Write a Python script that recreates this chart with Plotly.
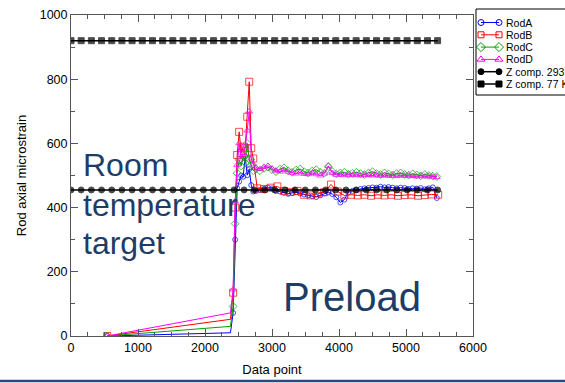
import plotly.graph_objects as go

# ---- data -------------------------------------------------------------
# sample positions (data point index) shared by RodA, RodC and RodD
rod_x = [540, 2380, 2420, 2450, 2480, 2510, 2540, 2570, 2600, 2630, 2660, 2690, 2720,
         2760, 2820, 2880, 2940, 3000, 3060, 3120, 3180, 3240, 3300, 3360, 3420,
         3480, 3540, 3600, 3660, 3720, 3780, 3840, 3900, 3960, 4020, 4080, 4140,
         4200, 4260, 4320, 4380, 4440, 4500, 4560, 4620, 4680, 4740, 4800, 4860,
         4920, 4980, 5040, 5100, 5160, 5220, 5280, 5340, 5400, 5460]

rod_a = [0, 10, 72, 300, 460, 481, 500, 496, 560, 501, 520, 470, 450,
         452, 455, 458, 462, 460, 452, 450, 446, 443, 446, 448, 444,
         441, 438, 436, 433, 438, 444, 448, 442, 432, 416, 425, 448,
         452, 455, 458, 460, 461, 463, 462, 465, 463, 464, 462, 460,
         462, 461, 458, 460, 459, 461, 457, 460, 463, 430]

rod_c = [0, 30, 92, 350, 507, 548, 530, 560, 540, 600, 550, 530, 515,
         520, 515, 522, 526, 518, 512, 520, 524, 515, 510, 517, 520,
         512, 508, 514, 518, 510, 507, 528, 512, 505, 508, 510, 504,
         507, 510, 506, 503, 508, 512, 506, 503, 508, 505, 502, 506,
         508, 503, 501, 505, 502, 499, 503, 500, 498, 497]

rod_d = [0, 72, 145, 420, 533, 600, 553, 570, 590, 640, 700, 553, 535,
         525, 520, 527, 530, 522, 515, 512, 518, 512, 508, 506, 510,
         505, 504, 508, 504, 500, 506, 530, 508, 502, 503, 501, 503,
         501, 502, 500, 502, 501, 500, 502, 499, 501, 499, 500, 498,
         500, 499, 500, 498, 497, 499, 497, 498, 496, 495]

# RodB was logged on a coarser grid after the preload spike
rod_b_x = [540, 2380, 2420, 2450, 2480, 2510, 2540, 2570, 2600, 2630, 2660, 2690, 2720,
           2780, 2880, 2980, 3080, 3180, 3280, 3380, 3480, 3580, 3680, 3780, 3880,
           3980, 4080, 4180, 4280, 4380, 4480, 4580, 4680, 4780, 4880, 4980, 5080,
           5180, 5280, 5380, 5480]

rod_b = [0, 52, 135, 400, 564, 636, 570, 590, 585, 683, 792, 585, 553,
         460, 458, 462, 466, 452, 449, 452, 440, 438, 445, 448, 472,
         450, 438, 440, 438, 440, 437, 440, 438, 440, 437, 439, 440,
         437, 439, 441, 440]

# computed Z-component targets
zcomp_x = [0, 152, 304, 456, 608, 760, 912, 1064, 1216, 1368, 1520, 1672, 1824,
           1976, 2128, 2280, 2432, 2584, 2736, 2888, 3040, 3192, 3344, 3496, 3648,
           3800, 3952, 4104, 4256, 4408, 4560, 4712, 4864, 5016, 5168, 5320, 5472]
zcomp_293k = 455
zcomp_77k = 920

x_ticks = [0, 1000, 2000, 3000, 4000, 5000, 6000]
y_ticks = [0, 200, 400, 600, 800, 1000]

# ---- layout geometry (pixels) ----------------------------------------
W, H = 565, 383
ML, MB = 71, 47                 # left / bottom margins
PAPER_W, PAPER_H = W - ML, H - MB
PLOT_RIGHT, PLOT_TOP = 473, 15  # main plot box edges
LEG_LEFT, LEG_TOP, LEG_BOTTOM = 476, 9, 95

FONT = "Liberation Sans, Arial, sans-serif"
TEXT_BLUE = "#1d3c66"
AXIS_GREY = "#555555"

def px_to_x(px):
    return (px - ML) / PAPER_W

def px_to_y(py):
    return (PAPER_H - py) / PAPER_H

fig = go.Figure()

# (name, x, y, colour, symbol, marker size in plot, marker size in key, line width)
series = [
    ("RodA", rod_x, rod_a, "#0000ff", "circle-open", 5, 6, 1),
    ("RodB", rod_b_x, rod_b, "#ff0000", "square-open", 7, 6, 1),
    ("RodC", rod_x, rod_c, "#00a000", "diamond-open", 6, 7, 1),
    ("RodD", rod_x, rod_d, "#ff00ff", "triangle-up-open", 6, 7, 1),
    ("Z comp. 293 K", zcomp_x, [zcomp_293k] * len(zcomp_x), "black", "circle", 6, 6, 1.5),
    ("Z comp. 77 K", zcomp_x, [zcomp_77k] * len(zcomp_x), "black", "square", 6, 6, 1.5),
]

for name, xs, ys, color, symbol, size, _, lw in series:
    sizes = [size] * len(xs)
    if name.startswith("Rod"):
        # no marker at the end of the slow ramp, just before the jump
        sizes[1] = 0
    fig.add_trace(go.Scatter(
        x=xs, y=ys, name=name, mode="lines+markers", showlegend=False,
        line=dict(color=color, width=lw),
        marker=dict(symbol=symbol, size=sizes, color=color,
                    line=dict(color=color, width=1)),
        xaxis="x", yaxis="y",
    ))

# ---- key: o--o sample + label per series, drawn in its own small axes ---
row0, row_step = 22.5, 12.3
for i, (name, _, _, color, symbol, _, key_size, lw) in enumerate(series):
    row = row0 + row_step * i
    fig.add_trace(go.Scatter(
        x=[481, 499], y=[row, row], mode="lines+markers", showlegend=False,
        line=dict(color=color, width=lw), cliponaxis=False,
        marker=dict(symbol=symbol, size=key_size, color=color,
                    line=dict(color=color, width=1)),
        xaxis="x2", yaxis="y2", hoverinfo="skip",
    ))
    fig.add_annotation(
        x=505, y=row, xref="x2", yref="y2", xanchor="left", yanchor="middle",
        text=name, showarrow=False, borderpad=0,
        font=dict(family=FONT, size=10.5, color="black"),
    )

fig.add_shape(
    type="rect", xref="x2", yref="y2", x0=LEG_LEFT, x1=W + 40,
    y0=LEG_TOP, y1=LEG_BOTTOM, line=dict(color="black", width=1),
)

axis_common = dict(
    showgrid=False, zeroline=False, showline=True, linecolor=AXIS_GREY,
    linewidth=1, mirror="ticks", ticks="inside", ticklen=7, tickwidth=1,
    tickcolor=AXIS_GREY, tickfont=dict(family=FONT, size=12.5, color="black"),
)

fig.update_layout(
    xaxis=dict(
        domain=[0, px_to_x(PLOT_RIGHT)], anchor="y",
        range=[0, 6000], tickvals=x_ticks, ticktext=[str(v) for v in x_ticks],
        minor=dict(dtick=250, ticks="inside", ticklen=4, tickcolor=AXIS_GREY),
        title=dict(text="Data point",
                   font=dict(family=FONT, size=13, color="black"), standoff=10),
        **axis_common,
    ),
    yaxis=dict(
        domain=[0, px_to_y(PLOT_TOP)], anchor="x",
        range=[0, 1000], tickvals=y_ticks, ticktext=[str(v) for v in y_ticks],
        minor=dict(dtick=100, ticks="inside", ticklen=4, tickcolor=AXIS_GREY),
        title=dict(text="Rod axial microstrain",
                   font=dict(family=FONT, size=13, color="black"), standoff=10),
        **axis_common,
    ),
    xaxis2=dict(domain=[px_to_x(474), 1], range=[474, W], anchor="y2",
                visible=False, fixedrange=True),
    yaxis2=dict(domain=[px_to_y(97), px_to_y(7)], range=[97, 7], anchor="x2",
                visible=False, fixedrange=True),
)

# big slide labels
for text, yv in [("Room", 533), ("temperature", 408), ("target", 290)]:
    fig.add_annotation(
        x=165, y=yv, xref="x", yref="y", xanchor="left", yanchor="middle",
        text=text, showarrow=False, borderpad=0,
        font=dict(family=FONT, size=32, color=TEXT_BLUE),
    )
fig.add_annotation(
    x=4194, y=121, xref="x", yref="y", xanchor="center", yanchor="middle",
    text="Preload", showarrow=False, borderpad=0,
    font=dict(family=FONT, size=40, color=TEXT_BLUE),
)

# slide rule under the chart
rule_y = px_to_y(381)
fig.add_shape(
    type="line", xref="paper", yref="paper",
    x0=px_to_x(0), x1=1, y0=rule_y, y1=rule_y,
    line=dict(color="#2b4b7c", width=2.5),
)

fig.update_layout(
    width=W, height=H,
    margin=dict(l=ML, r=0, t=0, b=MB, autoexpand=False),
    paper_bgcolor="white", plot_bgcolor="white",
    font=dict(family=FONT, color="black"),
    showlegend=False,
)

fig.write_html("out.html")
